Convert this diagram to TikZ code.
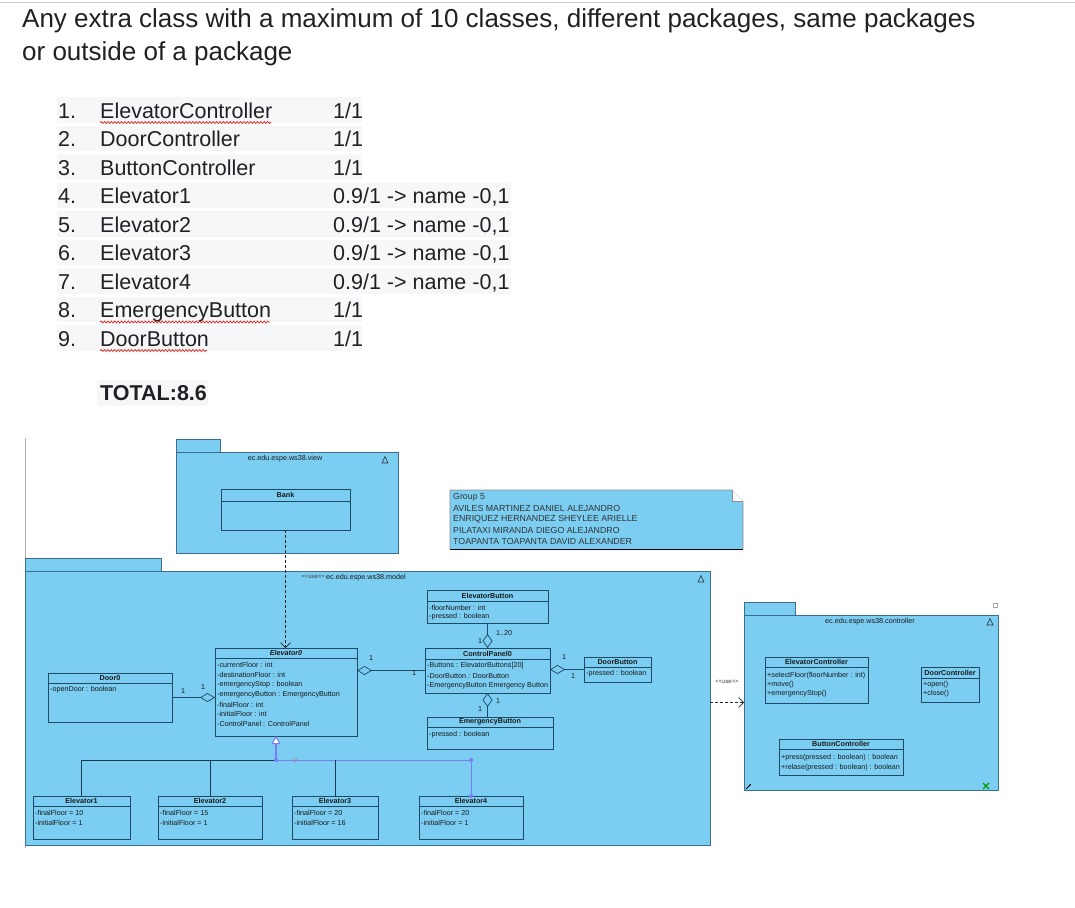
\documentclass[tikz,border=0pt]{standalone}
\usepackage{fontspec}
\setmainfont{Liberation Sans}[Ligatures=TeXOff]
\usetikzlibrary{arrows.meta,decorations.pathmorphing,calc}
\definecolor{pkgfill}{HTML}{7BCDF2}
\definecolor{pkgdraw}{HTML}{3D6E8C}
\definecolor{clsdraw}{HTML}{1E4A66}
\definecolor{txt}{HTML}{1A1A1A}
\definecolor{doc}{HTML}{202124}
\definecolor{rowbg}{HTML}{F6F7F8}
\definecolor{sel}{HTML}{7C7CF5}
\definecolor{squig}{HTML}{E0201E}
\newcommand{\atfont}{\fontsize{7.2}{8}\selectfont}
\newcommand{\ctfont}{\bfseries\fontsize{7.2}{8}\selectfont}
\newcommand{\hdfont}{\fontsize{26}{30}\selectfont}
\newcommand{\lsfont}{\fontsize{21.5}{25}\selectfont}
\tikzset{
  pkg/.style={draw=pkgdraw, fill=pkgfill, line width=0.8pt, rectangle, inner sep=0pt, outer sep=0pt, anchor=north west},
  clsbox/.style={draw=clsdraw, line width=0.8pt, rectangle, inner sep=0pt, outer sep=0pt, anchor=north west},
  clsep/.style={draw=clsdraw, line width=0.8pt},
  ctitle/.style={font=\ctfont, inner sep=0pt, text=txt},
  attr/.style={font=\atfont, inner sep=0pt, anchor=west, text=txt},
  mult/.style={font=\atfont, inner sep=0pt, text=txt},
  ptitle/.style={font=\atfont, inner sep=0pt, text=txt},
  uselbl/.style={font=\fontsize{5.9}{6.5}\selectfont, inner sep=0pt, text=black!75},
  assoc/.style={draw=clsdraw, line width=0.7pt},
  depline/.style={draw=black!85, line width=0.6pt, dash pattern=on 3pt off 2pt, -{Straight Barb[length=5pt,width=10pt]}},
  genline/.style={draw=clsdraw!80!black, line width=0.8pt},
  selline/.style={draw=sel, line width=1pt},
  notetxt/.style={font=\fontsize{8.8}{10}\selectfont, inner sep=0pt, anchor=west, text=black!80},
  hd/.style={font=\hdfont, inner sep=0pt, anchor=base west, text=doc},
  ls/.style={font=\lsfont, inner sep=0pt, anchor=base west, text=doc},
  squiggle/.style={draw=squig, line width=0.7pt, decorate, decoration={snake, amplitude=1pt, segment length=3.4pt}},
}
\begin{document}
\begin{tikzpicture}[x=1pt,y=-1pt]
\useasboundingbox (0,0) rectangle (1075,907);
\fill[white] (0,0) rectangle (1075,907);
\draw[black!20, line width=0.8pt] (0,2) -- (1075,2);

% ---------- header ----------
\node[hd] (h1) at (22,28) {Any extra class with a maximum of 10 classes, different packages, same packages};
\node[hd] (h2) at (22,60) {or outside of a package};

% ---------- list ----------
\foreach \c/\w in {110/362,138.5/362,167/362,195.5/511,224/511,252.5/511,281/511,309.5/362,338/362}{
  \fill[rowbg] (57,\c-13) rectangle (\w,\c+12.5);
}
\fill[rowbg] (97,380) rectangle (208,406);
\node[ls] (n1) at (58,118) {1.};
\node[ls] (n2) at (58,146.5) {2.};
\node[ls] (n3) at (58,175) {3.};
\node[ls] (n4) at (58,203.5) {4.};
\node[ls] (n5) at (58,232) {5.};
\node[ls] (n6) at (58,260.5) {6.};
\node[ls] (n7) at (58,289) {7.};
\node[ls] (n8) at (58,317.5) {8.};
\node[ls] (n9) at (58,346) {9.};
\node[ls] (c1) at (100,118) {ElevatorController};
\node[ls] (c2) at (100,146.5) {DoorController};
\node[ls] (c3) at (100,175) {ButtonController};
\node[ls] (c4) at (100,203.5) {Elevator1};
\node[ls] (c5) at (100,232) {Elevator2};
\node[ls] (c6) at (100,260.5) {Elevator3};
\node[ls] (c7) at (100,289) {Elevator4};
\node[ls] (c8) at (100,317.5) {EmergencyButton};
\node[ls] (c9) at (100,346) {DoorButton};
\node[ls] (s1) at (333,118) {1/1};
\node[ls] (s2) at (333,146.5) {1/1};
\node[ls] (s3) at (333,175) {1/1};
\node[ls] (s4) at (333,203.5) {0.9/1 -> name -0,1};
\node[ls] (s5) at (333,232) {0.9/1 -> name -0,1};
\node[ls] (s6) at (333,260.5) {0.9/1 -> name -0,1};
\node[ls] (s7) at (333,289) {0.9/1 -> name -0,1};
\node[ls] (s8) at (333,317.5) {1/1};
\node[ls] (s9) at (333,346) {1/1};
\draw[squiggle] (100,122.5) -- (271,122.5);
\draw[squiggle] (100,322) -- (270,322);
\draw[squiggle] (100,350.5) -- (207,350.5);
\node[ls, font=\lsfont\bfseries] (tot) at (100,400) {TOTAL:8.6};

% ---------- diagram border ----------
\draw[black!30, line width=1pt] (25,438) -- (25,848);

% ---------- view package ----------
\node[pkg, minimum width=44pt, minimum height=13pt] (viewtab) at (176,439) {};
\node[pkg, minimum width=222pt, minimum height=101pt] (view) at (176,452) {};
\node[ptitle] (viewt) at (285,459) {ec.edu.espe.ws38.view};
\draw[black!80, line width=0.6pt] (382,463) -- (385,456.5) -- (388,463) -- cycle;
\node[clsbox, minimum width=129pt, minimum height=41pt] (bank) at (221,489) {};
\draw[clsep] (221,501) -- (350,501);
\node[ctitle] (bankt) at (285.5,495) {Bank};

% ---------- note ----------
\fill[pkgfill] (450,490) -- (732,490) -- (743,501) -- (743,549) -- (450,549) -- cycle;
\draw[black!45, line width=0.6pt] (450,549) -- (450,490) -- (732,490) -- (743,501) -- (743,549);
\draw[black, line width=0.9pt] (450,549) -- (743,549);
\fill[white] (732,490) -- (743,501) -- (732,501) -- cycle;
\draw[black!45, line width=0.5pt] (732,490) -- (732,501) -- (743,501);
\node[notetxt] (nt1) at (453,497.5) {Group 5};
\node[notetxt] (nt2) at (453,508.5) {AVILES MARTINEZ DANIEL ALEJANDRO};
\node[notetxt] (nt3) at (453,519.5) {ENRIQUEZ HERNANDEZ SHEYLEE ARIELLE};
\node[notetxt] (nt4) at (453,530.5) {PILATAXI MIRANDA DIEGO ALEJANDRO};
\node[notetxt] (nt5) at (453,541.5) {TOAPANTA TOAPANTA DAVID ALEXANDER};

% ---------- model package ----------
\node[pkg, minimum width=136pt, minimum height=13pt] (modeltab) at (25,558) {};
\node[pkg, minimum width=685pt, minimum height=274pt] (model) at (25,571) {};
\node[ptitle] (modelt) at (366,578) {ec.edu.espe.ws38.model};
\draw[black!80, line width=0.6pt] (698,582) -- (701,575.5) -- (704,582) -- cycle;

% Elevator0
\node[clsbox, minimum width=142pt, minimum height=88pt] (elev0) at (215,648) {};
\draw[clsep] (215,658) -- (357,658);
\node[ctitle] (elev0t) at (286,653) {\itshape Elevator0};
\node[attr] (e0a1) at (217,665) {-currentFloor : int};
\node[attr] (e0a2) at (217,675) {-destinationFloor : int};
\node[attr] (e0a3) at (217,685) {-emergencyStop : boolean};
\node[attr] (e0a4) at (217,695) {-emergencyButton : EmergencyButton};
\node[attr] (e0a5) at (217,704.5) {-finalFloor : int};
\node[attr] (e0a6) at (217,714) {-initialFloor : int};
\node[attr] (e0a7) at (217,724) {-ControlPanel : ControlPanel};

% Door0
\node[clsbox, minimum width=124pt, minimum height=49pt] (door0) at (48,673) {};
\draw[clsep] (48,683) -- (172,683);
\node[ctitle] (door0t) at (110,678) {Door0};
\node[attr] (d0a1) at (50,690) {-openDoor : boolean};

% ElevatorButton
\node[clsbox, minimum width=121pt, minimum height=33pt] (ebtn) at (427,590) {};
\draw[clsep] (427,601) -- (548,601);
\node[ctitle] (ebtnt) at (487.5,595.5) {ElevatorButton};
\node[attr] (eba1) at (429,608) {-floorNumber : int};
\node[attr] (eba2) at (429,617) {-pressed : boolean};

% ControlPanel0
\node[clsbox, minimum width=125pt, minimum height=45pt] (cp) at (425,648) {};
\draw[clsep] (425,659) -- (550,659);
\node[ctitle] (cpt) at (487.5,653.5) {ControlPanel0};
\node[attr] (cpa1) at (427,665.5) {-Buttons : ElevatorButtons[20]};
\node[attr] (cpa2) at (427,676) {-DoorButton : DoorButton};
\node[attr] (cpa3) at (427,686) {-EmergencyButton Emergency Button};

% DoorButton
\node[clsbox, minimum width=67pt, minimum height=25pt] (dbtn) at (584,657) {};
\draw[clsep] (584,667) -- (651,667);
\node[ctitle] (dbtnt) at (617.5,662) {DoorButton};
\node[attr] (dba1) at (586,674) {-pressed : boolean};

% EmergencyButton
\node[clsbox, minimum width=126pt, minimum height=32pt] (embtn) at (427,717) {};
\draw[clsep] (427,727) -- (553,727);
\node[ctitle] (embtnt) at (490,722) {EmergencyButton};
\node[attr] (emba1) at (429,735) {-pressed : boolean};

% Elevator1..4
\node[clsbox, minimum width=97pt, minimum height=43pt] (e1) at (33,796) {};
\draw[clsep] (33,806) -- (130,806);
\node[ctitle] (e1t) at (81.5,801) {Elevator1};
\node[attr] (e1a1) at (35,813) {-finalFloor = 10};
\node[attr] (e1a2) at (35,823) {-initialFloor = 1};
\node[clsbox, minimum width=104pt, minimum height=43pt] (e2) at (158,796) {};
\draw[clsep] (158,806) -- (262,806);
\node[ctitle] (e2t) at (210,801) {Elevator2};
\node[attr] (e2a1) at (160,813) {-finalFloor = 15};
\node[attr] (e2a2) at (160,823) {-initialFloor = 1};
\node[clsbox, minimum width=86pt, minimum height=43pt] (e3) at (292,796) {};
\draw[clsep] (292,806) -- (378,806);
\node[ctitle] (e3t) at (335,801) {Elevator3};
\node[attr] (e3a1) at (294,813) {-finalFloor = 20};
\node[attr] (e3a2) at (294,823) {-initialFloor = 16};
\node[clsbox, minimum width=104pt, minimum height=43pt] (e4) at (419,796) {};
\draw[clsep] (419,806) -- (523,806);
\node[ctitle] (e4t) at (471,801) {Elevator4};
\node[attr] (e4a1) at (421,813) {-finalFloor = 20};
\node[attr] (e4a2) at (421,823) {-initialFloor = 1};

% associations
\draw[assoc, {Diamond[open,length=15pt,width=9pt]}-] (door0.east -| elev0.west) -- (door0.east);
\node[mult] (m1) at (183,691) {1};
\node[mult] (m2) at (203,687) {1};
\draw[assoc, {Diamond[open,length=15pt,width=9pt]}-] (cp.west -| elev0.east) -- (cp.west);
\node[mult] (m3) at (371,658) {1};
\node[mult] (m4) at (414,673) {1};
\draw[assoc, {Diamond[open,length=14pt,width=10pt]}-] (cp.north) -- (ebtn.south);
\node[mult] (m5) at (480,641) {1};
\node[mult] (m6) at (504,633) {1..20};
\draw[assoc, {Diamond[open,length=15pt,width=9pt]}-] (dbtn.west -| cp.east) -- (dbtn.west);
\node[mult] (m7) at (564,657) {1};
\node[mult] (m8) at (573,676) {1};
\draw[assoc, {Diamond[open,length=14pt,width=10pt]}-] (cp.south) -- (cp.south |- embtn.north);
\node[mult] (m9) at (498,701) {1};
\node[mult] (m10) at (480,709) {1};

% generalization tree
\coordinate (gy) at (0,760);
\coordinate (gj) at (276,760);
\coordinate (g4) at (e4.north |- gy);
\draw[genline] (e1.north) |- (gj);
\draw[genline] (e2.north) -- (e2.north |- gy);
\draw[selline] (gj) -- (g4) -- (e4.north);
\draw[genline] (e3.north) -- (e3.north |- gy);
\draw[selline, line width=1.4pt, -{Triangle[fill=white,length=8pt,width=9pt,line width=1pt]}] (gj) -- (gj |- elev0.south);
\fill[sel] (gj) circle (2pt);
\fill[sel] (g4) circle (2pt);
\fill[sel] (e4.north) circle (2pt);
\draw[black!40, line width=0.6pt] (295,760) circle (2pt);

% dependencies
\draw[depline] (bank.south) -- (bank.south |- elev0.north);
\node[uselbl, anchor=east] (use1) at (325,577) {<<use>>};

% ---------- controller package ----------
\node[pkg, minimum width=51pt, minimum height=13pt] (ctrltab) at (744,602) {};
\node[pkg, minimum width=254pt, minimum height=175pt] (ctrl) at (744,615) {};
\node[ptitle] (ctrlt) at (870,621.5) {ec.edu.espe.ws38.controller};
\draw[black!80, line width=0.6pt] (987,625) -- (990,618.5) -- (993,625) -- cycle;
\draw[black!35, line width=0.5pt] (993,603) rectangle (997,607);
\draw[black, line width=0.8pt, -{Stealth[length=2.5pt]}] (746,789) -- (751,784);
\draw[green!60!black, line width=1.2pt] (983,783) -- (989,789) (983,789) -- (989,783);

\node[clsbox, minimum width=103pt, minimum height=46pt] (ectl) at (765,657) {};
\draw[clsep] (765,667) -- (868,667);
\node[ctitle] (ectlt) at (816.5,662) {ElevatorController};
\node[attr] (eca1) at (767,675.5) {+selectFloor(floorNumber : int)};
\node[attr] (eca2) at (767,684.5) {+move()};
\node[attr] (eca3) at (767,694) {+emergencyStop()};

\node[clsbox, minimum width=58pt, minimum height=35pt] (dctl) at (921,667) {};
\draw[clsep] (921,678) -- (979,678);
\node[ctitle] (dctlt) at (950,672.5) {DoorController};
\node[attr] (dca1) at (923,685) {+open()};
\node[attr] (dca2) at (923,694) {+close()};

\node[clsbox, minimum width=124pt, minimum height=36pt] (bctl) at (779,739) {};
\draw[clsep] (779,749) -- (903,749);
\node[ctitle] (bctlt) at (841,744) {ButtonController};
\node[attr] (bca1) at (781,758) {+press(pressed : boolean) : boolean};
\node[attr] (bca2) at (781,768) {+relase(pressed : boolean) : boolean};

\draw[depline] (ctrl.west -| model.east) -- (ctrl.west);
\node[uselbl] (use2) at (727,682) {<<use>>};
\end{tikzpicture}
\end{document}
